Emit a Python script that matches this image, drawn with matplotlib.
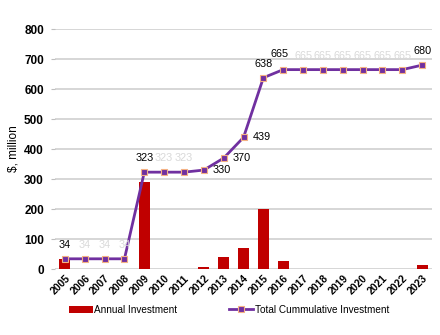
import matplotlib.pyplot as plt
import numpy as np

plt.rcParams['font.family'] = ['Liberation Sans', 'DejaVu Sans']

years = [str(y) for y in range(2005, 2024)]
annual = [34, 0, 0, 0, 289, 0, 0, 7, 40, 69, 199, 27, 0, 0, 0, 0, 0, 0, 15]
cumulative = [34, 34, 34, 34, 323, 323, 323, 330, 370, 439, 638, 665,
              665, 665, 665, 665, 665, 665, 680]

# where each point label goes and whether it is a repeat (greyed out)
label_pos = ['above', 'above', 'above', 'above', 'above', 'above', 'above',
             'right', 'right', 'right', 'above', 'above',
             'above', 'above', 'above', 'above', 'above', 'above', 'above']
label_muted = [False, True, True, True, False, True, True, False, False, False,
               False, False, True, True, True, True, True, True, False]

x = np.arange(len(years))

fig = plt.figure(figsize=(4.4, 3.35), dpi=100)
ax = fig.add_axes([0.125, 0.197, 0.857, 0.716])

bars = ax.bar(x, annual, width=0.55, color='#C00000', zorder=2,
              label='Annual Investment')
line, = ax.plot(x, cumulative, color='#7030A0', linewidth=2, marker='s',
                markersize=4.5, markerfacecolor='#7030A0',
                markeredgecolor='#F4B183', markeredgewidth=0.8, zorder=3,
                label='Total Cummulative Investment')

for xi, v, pos, muted in zip(x, cumulative, label_pos, label_muted):
    col = '#D9D9D9' if muted else 'black'
    if pos == 'right':
        off = (13, 0)
    elif xi == 11:
        off = (-3, 11)
    else:
        off = (0, 10)
    ax.annotate(str(v), (xi, v), xytext=off, textcoords='offset points',
                ha='center', va='center', fontsize=7.8, color=col)

ax.set_xlim(-0.5, len(years) - 0.5)
ax.set_ylim(0, 800)
ax.set_yticks(range(0, 801, 100))
ax.set_xticks(x)
ax.set_xticklabels(years, rotation=45, ha='right', rotation_mode='anchor',
                   fontsize=7.5, fontweight='bold')
for t in ax.get_yticklabels():
    t.set_fontweight('bold')
    t.set_fontsize(8.5)
ax.tick_params(axis='x', length=0, pad=3)
ax.tick_params(axis='y', length=3, color='#BFBFBF', pad=5)
ax.grid(axis='y', color='#D0D0D0', linewidth=1.2, zorder=0)
ax.set_axisbelow(True)
for s in ax.spines.values():
    s.set_visible(False)
ax.set_ylabel('$, million', fontsize=8.5, labelpad=3)

fig.legend(handles=[bars, line], loc='center', bbox_to_anchor=(0.52, 0.075),
           ncol=2, frameon=False, fontsize=7.2, columnspacing=5.2,
           handlelength=2.4, handletextpad=0.15)

fig.savefig('out.png', dpi=100)
